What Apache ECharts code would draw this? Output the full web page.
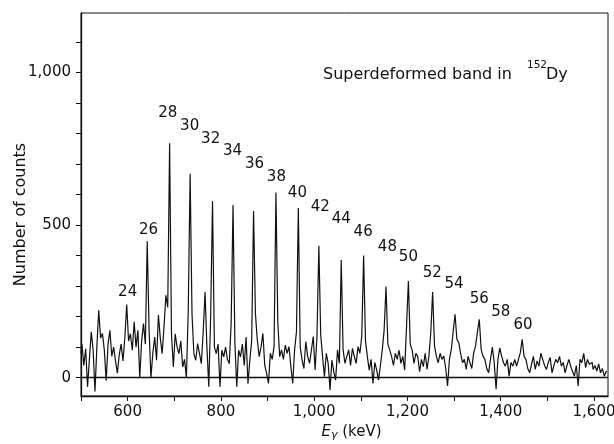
<!DOCTYPE html>
<html><head><meta charset="utf-8">
<script src="https://cdn.jsdelivr.net/npm/echarts@6/dist/echarts.min.js"></script>
<style>html,body{margin:0;padding:0;background:#fff}#c{width:614px;height:444px}</style>
</head><body><div id="c"></div>
<script>
// Spectrum channels: first channel energy and channel width (keV)
const energyStart = 500;
const channelWidth = 4;
// Counts per channel (500 ... 1628 keV)
const counts = [
  80, 110, 40, 95, -30, 60, 150, 90, -45, 100,
  221, 130, 145, 90, -10, 110, 155, 70, 100, 55,
  15, 75, 110, 55, 130, 240, 120, 144, 90, 183,
  100, 155, 0, 120, 177, 110, 447, 155, 0, 80,
  133, 57, 205, 130, 79, 166, 270, 230, 768, 144,
  35, 144, 100, 79, 120, 35, 60, 0, 221, 668,
  210, 79, 57, 112, 80, 46, 150, 281, 100, -30,
  200, 579, 100, 79, 110, -30, 90, 68, 100, 60,
  46, 180, 566, 112, -30, 90, 68, 110, 40, 133,
  -20, 57, 122, 546, 210, 124, 69, 100, 145, 40,
  14, -19, 80, 60, 102, 607, 180, 69, 91, 60,
  107, 80, 102, 36, -19, 91, 150, 556, 102, 58,
  30, 118, 70, 47, 90, 135, 25, 135, 432, 140,
  69, 3, 80, 47, -40, 58, 20, -8, 91, 47,
  386, 91, 47, 70, 91, 40, 96, 70, 47, 102,
  80, 135, 400, 120, 69, 25, 60, -19, 50, 25,
  -8, 40, 91, 156, 299, 110, 91, 69, 40, 80,
  60, 90, 47, 70, 25, 167, 317, 110, 91, 47,
  80, 69, 20, 60, 36, 80, 27, 71, 148, 281,
  104, 70, 49, 80, 60, 71, 30, -27, 60, 93,
  150, 208, 126, 115, 80, 49, 60, 27, 70, 49,
  30, 82, 104, 150, 191, 93, 70, 60, 30, 16,
  60, 100, 50, -38, 60, 98, 70, 49, 38, 60,
  5, 50, 38, 60, 38, 60, 82, 126, 70, 60,
  30, 16, 44, 70, 27, 55, 38, 80, 60, 40,
  27, 50, 66, 16, 40, 60, 49, 70, 38, 50,
  16, 40, 60, 38, 20, 5, 40, -27, 60, 49,
  80, 33, 60, 44, 50, 27, 40, 22, 45, 16,
  30, 5, 20
];
// Band transitions: spin labels and where each label sits (keV, counts)
const bandSpins = [24, 26, 28, 30, 32, 34, 36, 38, 40, 42, 44, 46, 48, 50, 52, 54, 56, 58, 60];
const labelEnergies = [600, 645, 686, 733, 778, 825, 872, 919, 964, 1013, 1058, 1105, 1157, 1202, 1253, 1300, 1354, 1400, 1448];
const labelCounts = [281, 484, 868, 823, 783, 744, 700, 656, 606, 560, 520, 478, 428, 395, 343, 307, 257, 216, 172];
// Axis ticks
const xTicks = [500, 600, 700, 800, 900, 1000, 1100, 1200, 1300, 1400, 1500, 1600];
const xTickLabels = [600, 800, 1000, 1200, 1400, 1600];
const yTicks = [0, 100, 200, 300, 400, 500, 600, 700, 800, 900, 1000, 1100];
const yTickLabels = [0, 500, 1000];

const fmt = v => String(v).replace(/\B(?=(\d{3})+(?!\d))/g, ',');
const ink = '#111';
const font = 'DejaVu Sans';

const spectrum = counts.map((c, i) => [energyStart + i * channelWidth, c]);
const labels = bandSpins.map((s, i) => [labelEnergies[i], labelCounts[i], s]);

const chart = echarts.init(document.getElementById('c'), null, {renderer: 'canvas'});
chart.setOption({
  animation: false,
  backgroundColor: '#fff',
  title: [
    {text: 'Superdeformed band in', left: 323, top: 67, padding: 0,
     textStyle: {fontFamily: font, fontSize: 16, fontWeight: 'normal', color: ink, lineHeight: 16}},
    {text: '152', left: 527, top: 60, padding: 0,
     textStyle: {fontFamily: font, fontSize: 10.5, fontWeight: 'normal', color: ink, lineHeight: 11}},
    {text: 'Dy', left: 546, top: 67, padding: 0,
     textStyle: {fontFamily: font, fontSize: 16, fontWeight: 'normal', color: ink, lineHeight: 16}}
  ],
  grid: {left: 81, right: 6, top: 13, bottom: 48, show: true, borderColor: ink, borderWidth: 1,
         containLabel: false, outerBoundsMode: 'none'},
  xAxis: {
    type: 'value', min: 500, max: 1630,
    axisLine: {onZero: false, lineStyle: {color: ink, width: 1.3}},
    axisTick: {show: true, customValues: xTicks, length: 5, inside: false, lineStyle: {color: ink, width: 1}},
    axisLabel: {customValues: xTickLabels, formatter: fmt, color: ink, fontFamily: font, fontSize: 15, margin: 9},
    splitLine: {show: false},
    name: '{e|E}{g|γ}{t| (keV)}',
    nameLocation: 'middle', nameGap: 27, nameMoveOverlap: false,
    nameTextStyle: {
      padding: [0, 0, 0, 14],
      rich: {
        e: {fontFamily: font, fontSize: 15, fontStyle: 'italic', color: ink},
        g: {fontFamily: font, fontSize: 11, fontStyle: 'italic', color: ink, padding: [7, 0, 0, 0]},
        t: {fontFamily: font, fontSize: 15, color: ink}
      }
    }
  },
  yAxis: {
    type: 'value', min: -60, max: 1195,
    axisLine: {lineStyle: {color: ink, width: 1.3}},
    axisTick: {show: true, customValues: yTicks, length: 5, inside: false, lineStyle: {color: ink, width: 1}},
    axisLabel: {customValues: yTickLabels, formatter: fmt, color: ink, fontFamily: font, fontSize: 15, margin: 10},
    splitLine: {show: false},
    name: 'Number of counts',
    nameLocation: 'middle', nameGap: 52, nameRotate: 90, nameMoveOverlap: false,
    nameTextStyle: {fontFamily: font, fontSize: 16, color: ink, padding: [0, 20, 0, 0]}
  },
  series: [
    {
      type: 'line', data: spectrum, step: 'middle', showSymbol: false, symbol: 'none',
      lineStyle: {color: ink, width: 1.2},
      markLine: {
        silent: true, symbol: ['none', 'none'], label: {show: false},
        lineStyle: {color: ink, type: 'solid', width: 1.4},
        data: [{yAxis: 0}]
      },
      z: 2
    },
    {
      type: 'scatter', data: labels, symbolSize: 1,
      itemStyle: {color: 'rgba(0,0,0,0)'},
      label: {show: true, position: 'inside', formatter: p => String(p.data[2]),
              color: ink, fontFamily: font, fontSize: 15, textBorderWidth: 0, opacity: 1},
      z: 3
    }
  ]
});
</script>
</body></html>
